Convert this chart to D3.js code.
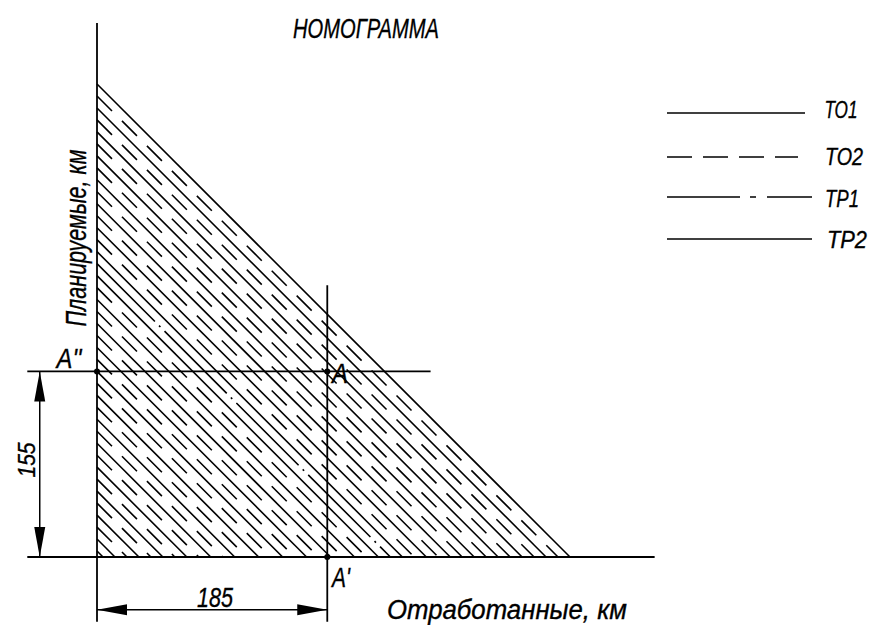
<!DOCTYPE html>
<html>
<head>
<meta charset="utf-8">
<script src="https://cdn.jsdelivr.net/npm/d3@7"></script>
<style>
  body { margin: 0; background: #fff; }
  text { font-family: "Liberation Sans", Arial, sans-serif; font-style: italic; fill: #000; stroke: #000; stroke-width: 0.35; }
</style>
</head>
<body>
<svg id="chart"></svg>
<script>
// chart values
const title = "НОМОГРАММА";
const xLabel = "Отработанные, км";
const yLabel = "Планируемые, км";
const legendNames = ["ТО1", "ТО2", "ТР1", "ТР2"];
const pointA = { x: 185, y: 155 };           // Отработанные / Планируемые, км
const hypotenuse = { x: 380, y: 395 };       // intercepts of the outer line, км
// y-axis intercepts (км) of the hatch lines, all parallel to the outer one
const hatchIntercepts = [395, 385, 375, 365, 355, 345, 335, 325, 315, 305,
                         295, 285, 275, 265, 255, 245, 235, 225, 215, 205,
                         195, 185, 175, 165, 155, 145, 135, 125, 115, 105,
                         95, 85, 75, 65, 55, 45, 35, 25, 15, 5];
const hatchTypes = ["ТО1", "ТО2", "ТР2", "ТО2", "ТО1", "ТО2", "ТР2", "ТО2", "ТО1", "ТО2",
                    "ТР2", "ТО2", "ТО1", "ТО2", "ТР2", "ТР1", "ТО1", "ТО2", "ТР2", "ТО2",
                    "ТО1", "ТО2", "ТР2", "ТО2", "ТО1", "ТО2", "ТР2", "ТО2", "ТО1", "ТО2",
                    "ТР2", "ТО2", "ТО1", "ТО2", "ТР2", "ТО2", "ТО1", "ТО2", "ТР2", "ТО2"];

// line styles
const hatchDash = { "ТО1": null, "ТО2": "21.2 14.1", "ТР1": "88 5.8 2 5.8", "ТР2": null };
const hatchOffset = { "ТО1": 0, "ТО2": 0, "ТР1": 6.1, "ТР2": 0 };
const legendDash = { "ТО1": null, "ТО2": "25 11", "ТР1": "73 10 6 11 60", "ТР2": null };

const width = 871, height = 625;
const svg = d3.select("#chart").attr("width", width).attr("height", height);

const x = d3.scaleLinear().domain([0, hypotenuse.x]).range([97, 570]);
const y = d3.scaleLinear().domain([0, hypotenuse.y]).range([557, 84]);

// hatching
svg.append("g")
  .selectAll("line")
  .data(hatchIntercepts)
  .join("line")
  .attr("x1", x(0))
  .attr("y1", d => y(d))
  .attr("x2", d => x(d * hypotenuse.x / hypotenuse.y))
  .attr("y2", y(0))
  .attr("stroke", "#000")
  .attr("stroke-width", 1.6)
  .attr("stroke-dasharray", (d, i) => hatchDash[hatchTypes[i]])
  .attr("stroke-dashoffset", (d, i) => hatchOffset[hatchTypes[i]]);

// axes and guide lines
const line = (x1, y1, x2, y2, w) => svg.append("line")
  .attr("x1", x(x1)).attr("y1", y(y1)).attr("x2", x(x2)).attr("y2", y(y2))
  .attr("stroke", "#000").attr("stroke-width", w || 1.8);

line(0, 446, 0, -54);          // vertical axis
line(-56, 0, 448, 0);          // horizontal axis
line(-56, pointA.y, 268, pointA.y);
line(pointA.x, 227, pointA.x, -54);

// dimension lines with arrows
const dimX = -46, dimY = -44;
line(dimX, 0, dimX, pointA.y, 1.5);
line(0, dimY, pointA.x, dimY, 1.5);

const arrow = (px, py, dx, dy) => {
  const L = 30, W = 5.5;
  const nx = -dy, ny = dx;
  const pts = [[px, py],
    [px - dx * L + nx * W, py - dy * L + ny * W],
    [px - dx * L - nx * W, py - dy * L - ny * W]];
  svg.append("path").attr("d", d3.line()(pts) + "Z").attr("fill", "#000");
};
arrow(x(dimX), y(pointA.y), 0, -1);
arrow(x(dimX), y(0), 0, 1);
arrow(x(0), y(dimY), -1, 0);
arrow(x(pointA.x), y(dimY), 1, 0);

// points
svg.append("g").selectAll("circle")
  .data([[0, pointA.y], [pointA.x, pointA.y], [pointA.x, 0]])
  .join("circle")
  .attr("cx", d => x(d[0])).attr("cy", d => y(d[1])).attr("r", 3).attr("fill", "#000");

// texts
const txt = (s, tx, ty, size, len, rot) => {
  const t = svg.append("text")
    .attr("font-size", size)
    .attr("text-anchor", "middle")
    .attr("textLength", len)
    .attr("lengthAdjust", "spacingAndGlyphs")
    .text(s);
  t.attr("transform", `translate(${tx},${ty})` + (rot ? ` rotate(${rot})` : ""));
  return t;
};

txt(title, 366, 38, 28, 146);
txt(xLabel, 507, 619, 27, 240);
txt(yLabel, 86, 238, 29, 177, -90);
txt(String(pointA.x), 215, 607, 28, 36);
txt(String(pointA.y), 35, 460, 23, 35, -90);
txt("А''", 69, 368, 27, 25);
txt("А", 340, 383, 27, 16);
txt("А'", 341, 587, 27, 18);

// legend
const legendY = [113, 157, 197, 239];
const legendLen = [138, 131, 145, 145];
const legendTextX = [841, 844, 842, 847];
const legendTextW = [33, 38, 34, 40];
const legendBase = [118, 165, 207, 248];
legendNames.forEach((name, i) => {
  svg.append("line")
    .attr("x1", 667).attr("x2", 667 + legendLen[i])
    .attr("y1", legendY[i]).attr("y2", legendY[i])
    .attr("stroke", "#000").attr("stroke-width", 1.6)
    .attr("stroke-dasharray", legendDash[name]);
  txt(name, legendTextX[i], legendBase[i], 24, legendTextW[i]);
});
</script>
</body>
</html>
